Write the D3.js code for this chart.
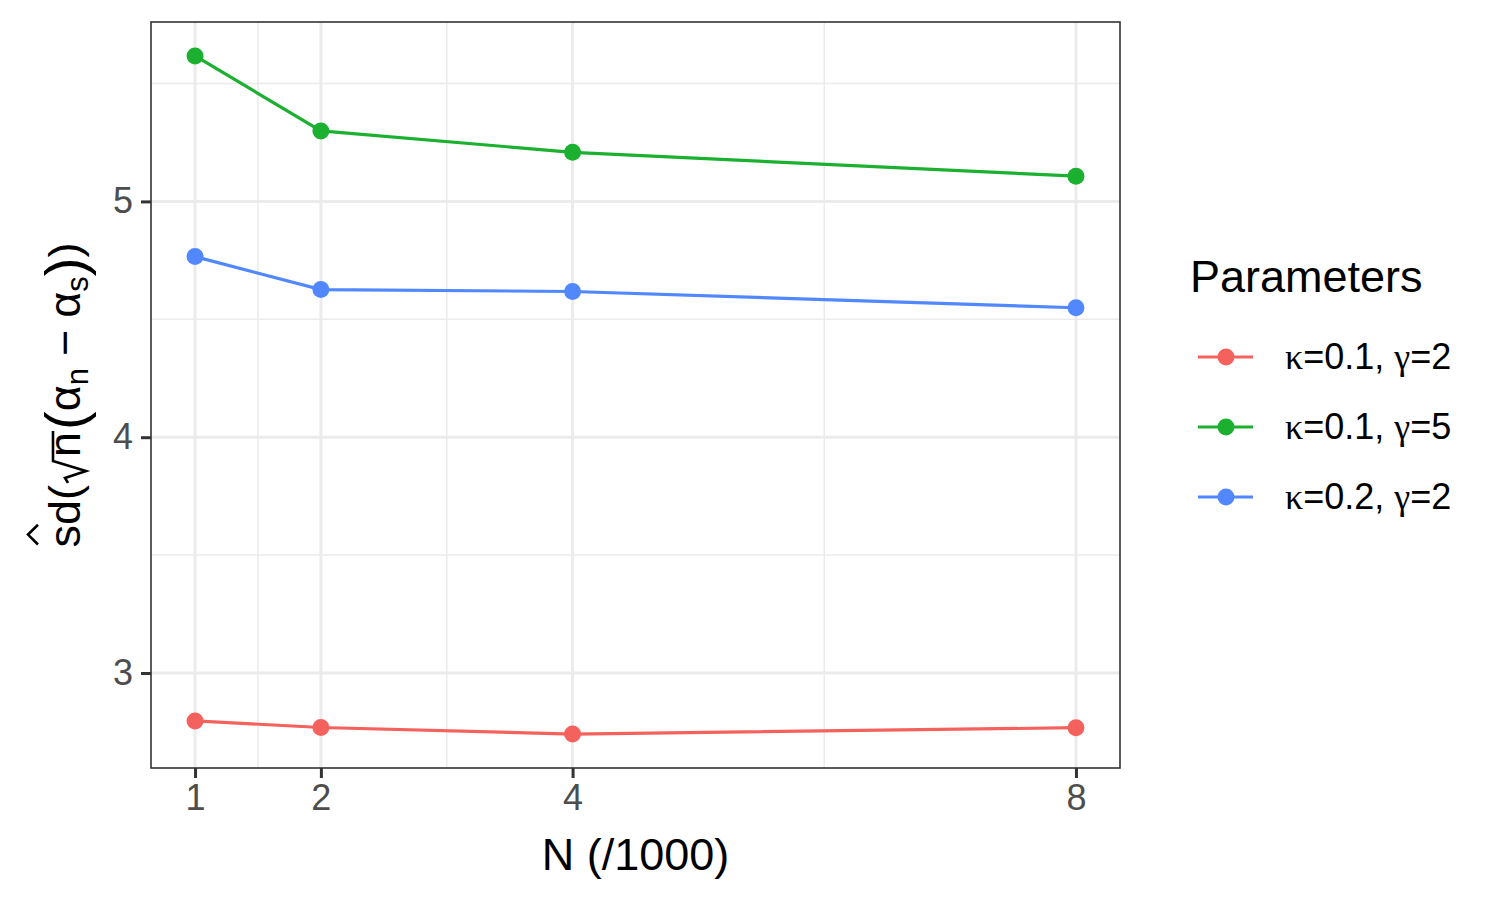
<!DOCTYPE html>
<html>
<head>
<meta charset="utf-8">
<script src="https://cdn.jsdelivr.net/npm/d3@7"></script>
<style>
  body { margin: 0; background: #fff; }
  text { font-family: "Liberation Sans", Arial, sans-serif; }
</style>
</head>
<body>
<div class="chart"></div>
<script>
var svgWidth = 1500;
var svgHeight = 900;

// panel area (pixels of the plot box)
var margin = { top: 22, right: 380, bottom: 132, left: 151 };
var width = svgWidth - margin.left - margin.right;
var height = svgHeight - margin.top - margin.bottom;

// data
var nValues = [1, 2, 4, 8];
var xTicks = [1, 2, 4, 8];
var xMinor = [1.5, 3, 6];
var yTicks = [3, 4, 5];
var yMinor = [3.5, 4.5, 5.5];
var seriesNames = ["κ=0.1, γ=2", "κ=0.1, γ=5", "κ=0.2, γ=2"];
var seriesColors = ["#F5625D", "#1BB02F", "#5188FF"];
var redValues = [2.797, 2.769, 2.741, 2.768];
var greenValues = [5.617, 5.299, 5.208, 5.107];
var blueValues = [4.766, 4.626, 4.618, 4.549];

var series = [redValues, greenValues, blueValues].map(function(vals, i) {
  return { name: seriesNames[i], color: seriesColors[i],
           points: vals.map(function(v, j) { return { n: nValues[j], sd: v }; }) };
});

var svg = d3.select(".chart")
  .append("svg")
  .attr("width", svgWidth)
  .attr("height", svgHeight);

var chartGroup = svg.append("g")
  .attr("transform", `translate(${margin.left}, ${margin.top})`);

// ggplot-style 5% expansion
var xr = d3.extent(nValues);
var xPad = (xr[1] - xr[0]) * 0.05;
var xLinearScale = d3.scaleLinear()
  .domain([xr[0] - xPad, xr[1] + xPad])
  .range([0, width]);

var allVals = redValues.concat(greenValues, blueValues);
var yr = d3.extent(allVals);
var yPad = (yr[1] - yr[0]) * 0.05;
var yLinearScale = d3.scaleLinear()
  .domain([yr[0] - yPad, yr[1] + yPad])
  .range([height, 0]);

// grid lines
chartGroup.append("g").selectAll("line.minx")
  .data(xMinor).enter().append("line")
  .attr("x1", d => xLinearScale(d)).attr("x2", d => xLinearScale(d))
  .attr("y1", 0).attr("y2", height)
  .attr("stroke", "#EBEBEB").attr("stroke-width", 1.5);
chartGroup.append("g").selectAll("line.miny")
  .data(yMinor).enter().append("line")
  .attr("y1", d => yLinearScale(d)).attr("y2", d => yLinearScale(d))
  .attr("x1", 0).attr("x2", width)
  .attr("stroke", "#EBEBEB").attr("stroke-width", 1.5);
chartGroup.append("g").selectAll("line.majx")
  .data(xTicks).enter().append("line")
  .attr("x1", d => xLinearScale(d)).attr("x2", d => xLinearScale(d))
  .attr("y1", 0).attr("y2", height)
  .attr("stroke", "#EBEBEB").attr("stroke-width", 3);
chartGroup.append("g").selectAll("line.majy")
  .data(yTicks).enter().append("line")
  .attr("y1", d => yLinearScale(d)).attr("y2", d => yLinearScale(d))
  .attr("x1", 0).attr("x2", width)
  .attr("stroke", "#EBEBEB").attr("stroke-width", 3);

// axes
var bottomAxis = d3.axisBottom(xLinearScale).tickValues(xTicks).tickFormat(d3.format("d"))
  .tickSize(10).tickPadding(6).tickSizeOuter(0);
var leftAxis = d3.axisLeft(yLinearScale).tickValues(yTicks).tickFormat(d3.format("d"))
  .tickSize(10).tickPadding(8).tickSizeOuter(0);

var xAxisG = chartGroup.append("g")
  .attr("transform", `translate(0, ${height})`)
  .call(bottomAxis);
var yAxisG = chartGroup.append("g")
  .call(leftAxis);

[xAxisG, yAxisG].forEach(function(g) {
  g.select(".domain").remove();
  g.selectAll(".tick line").attr("stroke", "#333333").attr("stroke-width", 3);
  g.selectAll(".tick text")
    .attr("fill", "#4D4D4D")
    .style("font-size", "36px")
    .style("font-family", "'Liberation Sans', Arial, sans-serif");
});

// lines and points
var line = d3.line()
  .x(d => xLinearScale(d.n))
  .y(d => yLinearScale(d.sd));

series.forEach(function(s) {
  chartGroup.append("path")
    .datum(s.points)
    .attr("d", line)
    .attr("fill", "none")
    .attr("stroke", s.color)
    .attr("stroke-width", 3.2);
  chartGroup.selectAll(null)
    .data(s.points)
    .enter()
    .append("circle")
    .attr("cx", d => xLinearScale(d.n))
    .attr("cy", d => yLinearScale(d.sd))
    .attr("r", 8.5)
    .attr("fill", s.color);
});

// panel border
chartGroup.append("rect")
  .attr("width", width).attr("height", height)
  .attr("fill", "none").attr("stroke", "#333333").attr("stroke-width", 1.6);

// x title
svg.append("text")
  .attr("x", margin.left + width / 2)
  .attr("y", 870)
  .attr("text-anchor", "middle")
  .style("font-size", "45px")
  .text("N (/1000)");

// y title: hat(sd)(sqrt(n)(alpha[n] - alpha[s]))
var yt = svg.append("g");
var cx = 0;
function piece(txt, size, dy, family) {
  var t = yt.append("text")
    .attr("x", cx).attr("y", dy || 0)
    .style("font-size", size + "px")
    .style("white-space", "pre")
    .text(txt);
  if (family) t.style("font-family", family);
  var w = t.node().getComputedTextLength();
  var start = cx;
  cx += w;
  return { start: start, w: w };
}
var sd = piece("sd", 45);
var sW = sd.w * 0.5;
yt.append("path")
  .attr("d", `M${sd.start + 3},-42 L${sd.start + sW / 2 + 1},-52 L${sd.start + sW - 1},-42`)
  .attr("fill", "none").attr("stroke", "#000").attr("stroke-width", 2.6);
piece("(", 45);
var r0 = cx + 2;
cx += 28;
var nn = piece("n", 45);
yt.append("path")
  .attr("d", `M${r0},-12 L${r0 + 5},-15 L${r0 + 12},6 L${r0 + 22},-27 L${cx + 1},-27`)
  .attr("fill", "none").attr("stroke", "#000").attr("stroke-width", 2.6);
cx += 2;
piece("(", 56, 4);
piece("α", 45);
piece("n", 31, 8);
cx += 12;
piece("−", 45);
cx += 12;
piece("α", 45);
piece("s", 31, 8);
piece(")", 56, 4);
piece(")", 45);
yt.attr("transform", `translate(80, ${margin.top + height / 2 + cx / 2}) rotate(-90)`);

// legend
var legend = svg.append("g").attr("transform", "translate(1190, 0)");
legend.append("text")
  .attr("x", 0).attr("y", 292)
  .style("font-size", "45px")
  .text("Parameters");

var keyY = d3.scalePoint().domain(seriesNames).range([357, 497]);
series.forEach(function(s) {
  var g = legend.append("g").attr("transform", `translate(0, ${keyY(s.name)})`);
  g.append("line").attr("x1", 8).attr("x2", 63).attr("y1", 0).attr("y2", 0)
    .attr("stroke", s.color).attr("stroke-width", 3.2);
  g.append("circle").attr("cx", 36).attr("cy", 0).attr("r", 8.5).attr("fill", s.color);
  var t = g.append("text").attr("x", 95).attr("y", 12).style("font-size", "36px");
  var parts = s.name.split(/([κγ])/);
  parts.forEach(function(p) {
    if (!p) return;
    var ts = t.append("tspan").text(p);
    if (p === "κ" || p === "γ") ts.style("font-family", "'Liberation Serif', 'DejaVu Serif', serif");
  });
});
</script>
</body>
</html>
